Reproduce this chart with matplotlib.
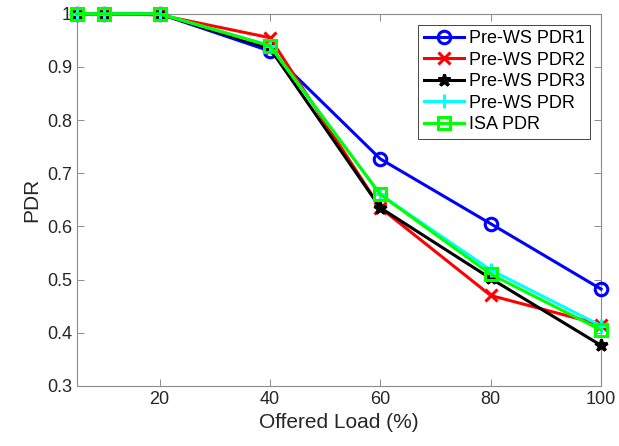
import matplotlib
matplotlib.use('Agg')
import matplotlib.pyplot as plt

plt.rcParams['font.family'] = ['Liberation Sans', 'DejaVu Sans']

carga = [5, 10, 20, 40, 60, 80, 100]
pdr1 = [1.0, 1.0, 1.0, 0.930, 0.727, 0.605, 0.482]
pdr2 = [1.0, 1.0, 0.998, 0.955, 0.635, 0.470, 0.415]
pdr3 = [1.0, 1.0, 1.0, 0.935, 0.635, 0.502, 0.376]
pdr_ws = [1.0, 1.0, 1.0, 0.940, 0.660, 0.518, 0.413]
pdr_isa = [1.0, 1.0, 1.0, 0.940, 0.660, 0.510, 0.405]

series = [
    (pdr1, 'Pre-WS PDR1', (0, 0, 1), 'o', 9),
    (pdr2, 'Pre-WS PDR2', (1, 0, 0), 'x', 9),
    (pdr3, 'Pre-WS PDR3', (0, 0, 0), '*', 9),
    (pdr_ws, 'Pre-WS PDR', (0, 1, 1), '+', 10),
    (pdr_isa, 'ISA PDR', (0, 1, 0), 's', 8),
]

fig = plt.figure(figsize=(6.19, 4.46), dpi=100)
ax = fig.add_axes([0.124, 0.135, 0.847, 0.834])

for valores, nombre, color, marcador, tam in series:
    ax.plot(carga, valores, color=color, marker=marcador, linewidth=2.2,
            markersize=tam, markeredgewidth=2.2, fillstyle='none', label=nombre,
            clip_on=False, zorder=3)

ax.set_xlim(5, 100)
ax.set_ylim(0.3, 1.0)
ax.set_xticks([20, 40, 60, 80, 100])
ax.set_yticks([0.3, 0.4, 0.5, 0.6, 0.7, 0.8, 0.9, 1.0])
ax.set_yticklabels(['0.3', '0.4', '0.5', '0.6', '0.7', '0.8', '0.9', '1'])
ax.tick_params(direction='in', labelsize=13, labelcolor='#262626', color='#8c8c8c',
               length=5, top=True, right=True, width=0.7)
for s in ax.spines.values():
    s.set_color('#8c8c8c')
    s.set_linewidth(0.8)
ax.set_xlabel('Offered Load (%)', fontsize=15, color='#262626')
ax.set_ylabel('PDR', fontsize=15, color='#262626')

leg = ax.legend(loc='upper right', fontsize=13, fancybox=False, framealpha=1,
                edgecolor='#262626', handlelength=2.2, borderpad=0.3,
                labelspacing=0.25, handletextpad=0.3, borderaxespad=0.6)
leg.get_frame().set_linewidth(0.6)
leg.set_zorder(5)

fig.savefig('out.png', dpi=100)
